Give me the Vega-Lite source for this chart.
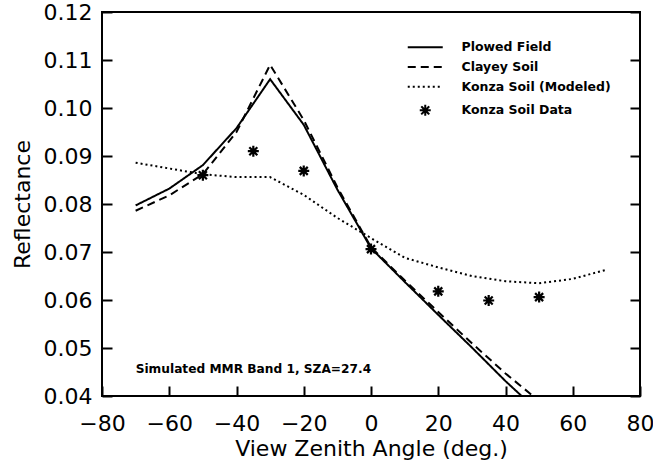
{
  "$schema": "https://vega.github.io/schema/vega-lite/v6.json",
  "autosize": "none",
  "width": 538,
  "height": 384,
  "padding": {"left": 102, "top": 12, "right": 13, "bottom": 67},
  "background": "white",
  "config": {
    "view": {"stroke": "black", "strokeWidth": 2},
    "font": "DejaVu Sans",
    "axis": {"grid": false, "domain": false, "tickColor": "black", "tickWidth": 2, "tickSize": 10, "offset": -10, "labelColor": "black", "titleColor": "black", "labelFont": "DejaVu Sans", "titleFont": "DejaVu Sans", "labelFontSize": 22, "titleFontSize": 22, "titleFontWeight": "normal", "labelOverlap": false, "labelBound": false, "labelFlush": false},
    "legend": {"orient": "none", "legendX": 317, "legendY": 29, "padding": 0, "title": null, "labelFont": "DejaVu Sans", "labelFontWeight": "bold", "labelFontSize": 12.5, "labelColor": "black", "symbolSize": 100, "symbolStrokeWidth": 2, "symbolStrokeColor": "black", "labelOffset": 30, "rowPadding": 6.7}
  },
  "datasets": {
    "curves": [
      {"series": "Plowed Field", "vza": -70, "refl": 0.0797},
      {"series": "Plowed Field", "vza": -60, "refl": 0.0832},
      {"series": "Plowed Field", "vza": -50, "refl": 0.0881},
      {"series": "Plowed Field", "vza": -40, "refl": 0.0958},
      {"series": "Plowed Field", "vza": -30, "refl": 0.1060},
      {"series": "Plowed Field", "vza": -20, "refl": 0.0965},
      {"series": "Plowed Field", "vza": -10, "refl": 0.0830},
      {"series": "Plowed Field", "vza": 0, "refl": 0.0708},
      {"series": "Plowed Field", "vza": 10, "refl": 0.0638},
      {"series": "Plowed Field", "vza": 20, "refl": 0.0569},
      {"series": "Plowed Field", "vza": 30, "refl": 0.0501},
      {"series": "Plowed Field", "vza": 40, "refl": 0.0431},
      {"series": "Plowed Field", "vza": 44.8, "refl": 0.0400},
      {"series": "Clayey Soil", "vza": -70, "refl": 0.0786},
      {"series": "Clayey Soil", "vza": -60, "refl": 0.0818},
      {"series": "Clayey Soil", "vza": -50, "refl": 0.0862},
      {"series": "Clayey Soil", "vza": -40, "refl": 0.0950},
      {"series": "Clayey Soil", "vza": -30, "refl": 0.1090},
      {"series": "Clayey Soil", "vza": -20, "refl": 0.0975},
      {"series": "Clayey Soil", "vza": -10, "refl": 0.0835},
      {"series": "Clayey Soil", "vza": 0, "refl": 0.0710},
      {"series": "Clayey Soil", "vza": 10, "refl": 0.0641},
      {"series": "Clayey Soil", "vza": 20, "refl": 0.0575},
      {"series": "Clayey Soil", "vza": 30, "refl": 0.0510},
      {"series": "Clayey Soil", "vza": 40, "refl": 0.0447},
      {"series": "Clayey Soil", "vza": 48, "refl": 0.0401},
      {"series": "Konza Soil (Modeled)", "vza": -70, "refl": 0.0886},
      {"series": "Konza Soil (Modeled)", "vza": -60, "refl": 0.0874},
      {"series": "Konza Soil (Modeled)", "vza": -50, "refl": 0.0862},
      {"series": "Konza Soil (Modeled)", "vza": -40, "refl": 0.0856},
      {"series": "Konza Soil (Modeled)", "vza": -30, "refl": 0.0856},
      {"series": "Konza Soil (Modeled)", "vza": -20, "refl": 0.0819},
      {"series": "Konza Soil (Modeled)", "vza": -10, "refl": 0.0771},
      {"series": "Konza Soil (Modeled)", "vza": 0, "refl": 0.0729},
      {"series": "Konza Soil (Modeled)", "vza": 10, "refl": 0.0688},
      {"series": "Konza Soil (Modeled)", "vza": 20, "refl": 0.0668},
      {"series": "Konza Soil (Modeled)", "vza": 30, "refl": 0.0650},
      {"series": "Konza Soil (Modeled)", "vza": 40, "refl": 0.0639},
      {"series": "Konza Soil (Modeled)", "vza": 50, "refl": 0.0635},
      {"series": "Konza Soil (Modeled)", "vza": 60, "refl": 0.0644},
      {"series": "Konza Soil (Modeled)", "vza": 70, "refl": 0.0663}
    ],
    "points": [
      {"series": "Konza Soil Data", "vza": -50, "refl": 0.0860},
      {"series": "Konza Soil Data", "vza": -35, "refl": 0.0910},
      {"series": "Konza Soil Data", "vza": -20, "refl": 0.0869},
      {"series": "Konza Soil Data", "vza": 0, "refl": 0.0706},
      {"series": "Konza Soil Data", "vza": 20, "refl": 0.0618},
      {"series": "Konza Soil Data", "vza": 35, "refl": 0.0599},
      {"series": "Konza Soil Data", "vza": 50, "refl": 0.0606}
    ],
    "notes": [
      {"label": "Simulated MMR Band 1, SZA=27.4", "vza": -70, "refl": 0.0456}
    ]
  },
  "resolve": {"axis": {"y": "independent"}},
  "layer": [
    {
      "data": {"name": "curves"},
      "mark": {"type": "line", "color": "black", "strokeWidth": 2, "clip": true},
      "encoding": {
        "x": {"field": "vza", "type": "quantitative", "scale": {"domain": [-80, 80], "nice": false, "zero": false},
          "axis": {"values": [-80, -60, -40, -20, 0, 20, 40, 60, 80], "title": "View Zenith Angle (deg.)", "labelPadding": 17, "titleY": 62, "titleBaseline": "middle"}},
        "y": {"field": "refl", "type": "quantitative", "scale": {"domain": [0.04, 0.12], "nice": false, "zero": false},
          "axis": {"values": [0.04, 0.05, 0.06, 0.07, 0.08, 0.09, 0.10, 0.11, 0.12], "format": ".2f", "title": "Reflectance", "labelPadding": 10, "titleX": -90, "titleBaseline": "middle"}},
        "strokeDash": {"field": "series", "type": "nominal",
          "scale": {"domain": ["Plowed Field", "Clayey Soil", "Konza Soil (Modeled)", "Konza Soil Data"], "range": [[1, 0], [8, 5], [2, 3], [1, 0]]},
          "legend": {"title": null}}
      }
    },
    {
      "data": {"name": "points"},
      "mark": {"type": "point", "color": "black", "strokeWidth": 2.2, "filled": false, "opacity": 1},
      "encoding": {
        "x": {"field": "vza", "type": "quantitative"},
        "y": {"field": "refl", "type": "quantitative",
          "axis": {"orient": "right", "values": [0.04, 0.05, 0.06, 0.07, 0.08, 0.09, 0.10, 0.11, 0.12], "labels": false, "title": null}},
        "size": {"value": 100},
        "shape": {"field": "series", "type": "nominal",
          "scale": {"domain": ["Plowed Field", "Clayey Soil", "Konza Soil (Modeled)", "Konza Soil Data"],
            "range": ["M-3.5,0L3.5,0", "M-3.5,0L3.5,0", "M-3.5,0L3.5,0", "M-1.1,0L1.1,0M0,-1.1L0,1.1M-0.8,-0.8L0.8,0.8M-0.8,0.8L0.8,-0.8"]},
          "legend": {"title": null}}
      }
    },
    {
      "data": {"name": "notes"},
      "mark": {"type": "text", "align": "left", "baseline": "middle", "font": "DejaVu Sans", "fontWeight": "bold", "fontSize": 12.2, "color": "black"},
      "encoding": {
        "x": {"field": "vza", "type": "quantitative"},
        "y": {"field": "refl", "type": "quantitative", "axis": null},
        "text": {"field": "label", "type": "nominal"}
      }
    }
  ]
}
